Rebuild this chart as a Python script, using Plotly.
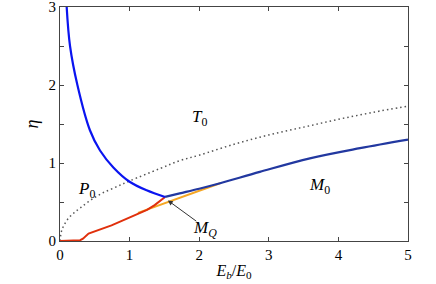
import plotly.graph_objects as go

# P0/T0 boundary (blue)
pt_x = [0.096, 0.144, 0.25, 0.43, 0.575, 0.77, 1.0, 1.245, 1.51]
pt_y = [3.0, 2.5, 2.0, 1.42, 1.16, 0.94, 0.76, 0.65, 0.565]

# M0 boundary (dark blue)
m0_x = [1.51, 1.72, 2.0, 2.3, 2.87, 3.59, 4.31, 5.0]
m0_y = [0.565, 0.61, 0.67, 0.74, 0.886, 1.06, 1.19, 1.30]

# orange line
mq_x = [1.12, 2.3]
mq_y = [0.36, 0.74]

# red curve
red_x = [0.0, 0.29, 0.33, 0.36, 0.41, 0.74, 1.125, 1.25, 1.36, 1.44, 1.51]
red_y = [0.0, 0.01, 0.03, 0.05, 0.095, 0.20, 0.35, 0.40, 0.46, 0.51, 0.565]

# dotted curve
dot_x = [0.0, 0.02, 0.05, 0.12, 0.2, 0.3, 0.45, 0.6, 0.8, 1.0, 1.44, 1.72, 2.0, 2.5, 3.0, 3.5, 4.0, 4.5, 5.0]
dot_y = [0.0, 0.12, 0.19, 0.29, 0.36, 0.43, 0.53, 0.61, 0.69, 0.77, 0.93, 1.03, 1.10, 1.24, 1.36, 1.46, 1.56, 1.65, 1.73]

x_ticks = [0, 1, 2, 3, 4, 5]
y_ticks = [0, 0.5, 1, 1.5, 2, 2.5, 3]
y_tick_text = ["0", "", "1", "", "2", "", "3"]

fig = go.Figure()
fig.add_trace(go.Scatter(x=dot_x, y=dot_y, mode="lines", line_shape="spline",
                         line=dict(color="#555555", width=1.5, dash="1.5px,3px")))
fig.add_trace(go.Scatter(x=mq_x, y=mq_y, mode="lines",
                         line=dict(color="#f5a623", width=2)))
fig.add_trace(go.Scatter(x=red_x, y=red_y, mode="lines",
                         line=dict(color="#e0300c", width=2)))
fig.add_trace(go.Scatter(x=m0_x, y=m0_y, mode="lines", line_shape="spline",
                         line=dict(color="#2238a0", width=2.2)))
fig.add_trace(go.Scatter(x=pt_x, y=pt_y, mode="lines", line_shape="spline",
                         line=dict(color="#0a14f0", width=2.2)))

serif = "Liberation Serif, DejaVu Serif, serif"
labels = [("T", "0", 2.0, 1.58), ("P", "0", 0.38, 0.65), ("M", "0", 3.73, 0.70)]
for base, sub, lx, ly in labels:
    fig.add_annotation(x=lx, y=ly, text=f"<i>{base}</i><sub>{sub}</sub>", showarrow=False,
                       font=dict(family=serif, size=17, color="black"))

fig.add_annotation(x=1.55, y=0.52, ax=1.98, ay=0.24, axref="x", ayref="y",
                   text="", showarrow=True, arrowhead=2, arrowsize=1, arrowwidth=1,
                   arrowcolor="#333333")
fig.add_annotation(x=2.08, y=0.16, text="<i>M</i><sub><i>Q</i></sub>", showarrow=False,
                   font=dict(family=serif, size=17, color="black"))

axis_common = dict(showgrid=False, zeroline=False, showline=True, linecolor="#444444",
                   linewidth=1, mirror="ticks", ticks="inside", ticklen=4, tickcolor="#444444",
                   automargin=False, ticklabeloverflow="allow",
                   tickfont=dict(family=serif, size=15, color="black"))
fig.update_xaxes(range=[0, 5], tickvals=x_ticks, ticktext=[str(t) for t in x_ticks],
                 title=dict(text="<i>E</i><sub><i>b</i></sub>/<i>E</i><sub>0</sub>",
                            font=dict(family=serif, size=16, color="black"), standoff=2),
                 **axis_common)
fig.update_yaxes(range=[0, 3], tickvals=y_ticks, ticktext=y_tick_text,
                 title=dict(text="<i>η</i>", font=dict(family=serif, size=18, color="black"),
                            standoff=5),
                 **axis_common)
fig.update_layout(width=436, height=284, margin=dict(l=60, r=28, t=7, b=43),
                  showlegend=False, plot_bgcolor="white", paper_bgcolor="white")
fig.write_html("out.html", config={"displayModeBar": False},
               post_script="document.body.style.margin='0';")
